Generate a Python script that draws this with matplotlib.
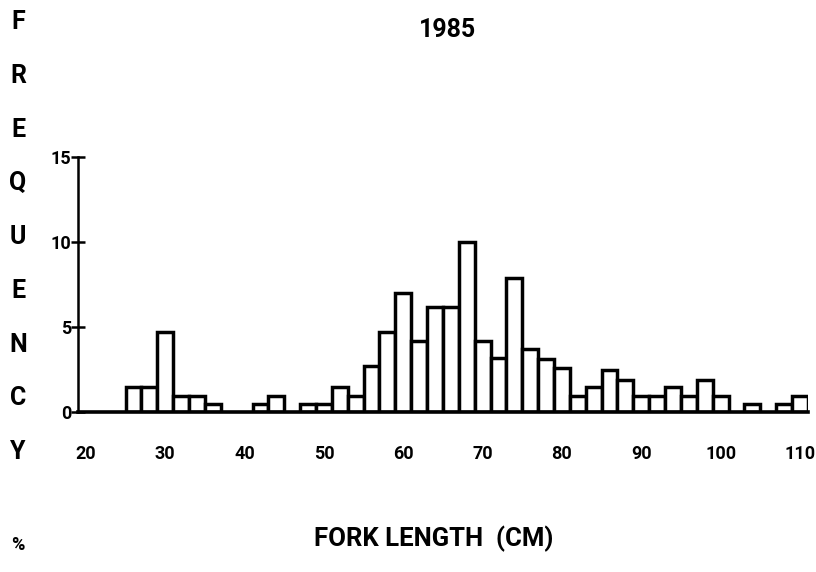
import numpy as np
import matplotlib
matplotlib.use("Agg")
import matplotlib.pyplot as plt

plt.rcParams['font.family'] = ['Roboto', 'DejaVu Sans']

# fork length classes (cm, bin centres, 2 cm wide) and percent frequency
length_cm = [26, 28, 30, 32, 34, 36, 38, 40, 42, 44, 46, 48, 50, 52, 54,
             56, 58, 60, 62, 64, 66, 68, 70, 72, 74, 76, 78, 80, 82, 84,
             86, 88, 90, 92, 94, 96, 98, 100, 102, 104, 106, 108, 110]
freq_pct = [1.5, 1.5, 4.7, 0.94, 0.94, 0.47, 0, 0, 0.47, 0.94, 0, 0.47, 0.47, 1.5, 0.94,
            2.7, 4.7, 7.0, 4.2, 6.2, 6.2, 10.0, 4.2, 3.2, 7.9, 3.7, 3.1, 2.6, 0.94, 1.5,
            2.5, 1.9, 0.94, 0.94, 1.5, 0.94, 1.9, 0.94, 0, 0.47, 0, 0.47, 0.94]
x_ticks = [20, 30, 40, 50, 60, 70, 80, 90, 100, 110]
y_ticks = [0, 5, 10, 15]
ylabel_letters = list("FREQUENCY")

fig = plt.figure(figsize=(8.16, 5.72), dpi=100)
ax = fig.add_axes([0.0956, 0.2797, 0.8944, 0.4458])

# empty classes are left out so only the baseline shows there
nonzero = [(x, f) for x, f in zip(length_cm, freq_pct) if f > 0]
ax.bar([x for x, _ in nonzero], [f for _, f in nonzero], width=2.0,
       color='white', edgecolor='black', linewidth=2.5, zorder=3)

ax.set_xlim(19, 111)
ax.set_ylim(0, 15)
for side in ('top', 'right'):
    ax.spines[side].set_visible(False)
ax.spines['bottom'].set_linewidth(2.6)
ax.spines['left'].set_linewidth(1.8)
ax.spines['bottom'].set_zorder(4)

ax.set_xticks(x_ticks)
ax.set_xticklabels([str(t) for t in x_ticks], fontsize=13, fontweight='bold')
ax.tick_params(axis='x', length=0, pad=24)
ax.set_yticks(y_ticks)
ax.set_yticklabels([str(t) for t in y_ticks], fontsize=13, fontweight='bold')
ax.tick_params(axis='y', direction='inout', length=10, width=1.8, pad=0)

fig.text(0.548, 0.948, "1985", ha='center', va='center', fontsize=18,
         fontweight='bold')
fig.text(0.532, 0.058, "FORK LENGTH  (CM)", ha='center', va='center', fontsize=18.5,
         fontweight='bold')

# vertical stacked y label
for i, ch in enumerate(ylabel_letters):
    y_px = 22 + i * 53.75
    fig.text(18 / 816, 1 - y_px / 572, ch, ha='center', va='center', fontsize=18,
             fontweight='bold')
fig.text(18 / 816, 1 - 545 / 572, "%", ha='center', va='center', fontsize=13,
         fontweight='bold')

fig.savefig("out.png", dpi=100, facecolor='white')
